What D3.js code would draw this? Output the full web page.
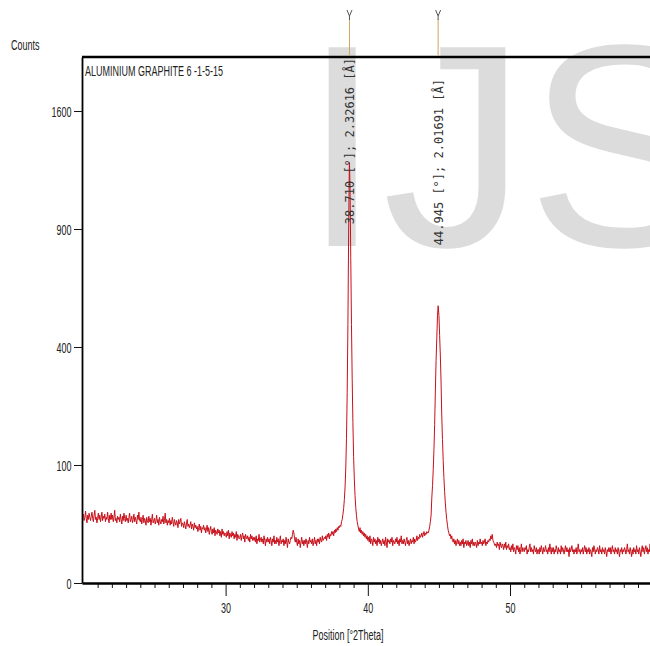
<!DOCTYPE html>
<html><head><meta charset="utf-8">
<script src="https://cdn.jsdelivr.net/npm/d3@7/dist/d3.min.js"></script>
<style>html,body{margin:0;padding:0;background:#fff;} svg{display:block;}</style>
</head><body><div id="chart"></div>
<script>
// ---- data ----
const scanStart = 20.0;   // °2Theta
const scanStep = 0.05;    // °2Theta
const counts = [
  34,28,31,37,30,26,33,29,35,31,
  28,32,36,30,27,33,38,29,31,26,
  30,35,29,33,27,31,36,28,32,30,
  34,27,31,29,36,30,26,33,29,35,
  29,33,27,31,38,28,30,26,32,29,
  31,27,34,29,25,32,28,35,30,27,
  33,28,30,26,31,35,27,29,32,26,
  29,34,27,31,28,25,33,29,36,28,
  27,31,25,29,33,26,30,28,24,31,
  28,26,32,27,30,24,29,34,26,28,
  30,25,28,33,26,29,24,31,27,25,
  29,27,32,25,28,35,26,29,24,28,
  26,30,24,28,25,31,27,23,29,26,
  24,28,26,22,29,25,27,30,23,26,
  25,22,27,24,21,26,29,23,25,22,
  24,27,21,25,23,20,26,22,24,21,
  23,19,22,25,20,23,18,22,21,24,
  20,22,18,21,24,19,22,17,20,23,
  19,17,21,18,22,16,20,19,17,21,
  18,20,16,19,15,21,17,19,16,18,
  17,15,19,16,20,14,18,16,15,19,
  16,18,14,17,15,19,13,17,16,14,
  15,17,13,16,18,14,16,12,17,15,
  14,16,13,15,12,17,14,16,13,15,
  13,15,12,16,11,14,13,17,12,14,
  15,12,14,11,16,13,10,14,12,15,
  12,14,11,15,13,10,14,12,16,11,
  13,11,15,12,14,10,13,16,11,13,
  12,14,10,13,11,15,12,9,14,12,
  11,13,15,14,17,20,18,14,12,15,
  12,10,14,11,13,9,12,15,11,13,
  10,13,11,14,12,9,13,11,15,12,
  13,11,14,10,12,15,11,13,10,14,
  12,14,11,15,13,12,16,13,14,15,
  14,16,13,17,15,18,14,17,16,19,
  17,19,16,20,18,21,19,22,20,23,
  22,24,23,27,29,34,40,50,66,95,
  150,260,480,880,1250,1120,760,480,300,185,
  115,78,55,41,33,27,24,21,19,22,
  18,20,17,19,16,18,15,17,14,16,
  13,15,12,16,11,14,13,10,15,12,
  14,11,13,10,15,12,14,11,13,10,
  12,14,11,13,10,15,12,9,14,12,
  13,11,14,12,15,10,13,12,11,14,
  12,15,11,13,10,14,12,16,11,13,
  11,14,12,10,13,15,11,13,10,12,
  14,11,13,12,15,11,14,12,13,16,
  13,15,14,17,15,16,18,15,17,19,
  16,18,17,19,18,18,20,23,27,33,
  52,68,92,128,180,265,355,430,515,550,
  515,440,370,290,200,148,108,80,60,46,
  36,29,24,20,18,16,17,14,16,13,
  12,14,11,13,10,12,14,11,13,10,
  12,10,13,11,14,9,12,11,13,10,
  11,13,10,12,9,13,11,14,10,12,
  10,12,11,9,13,10,12,11,14,11,
  12,10,13,11,12,14,10,12,11,13,
  12,14,13,16,14,17,13,12,11,10,
  11,9,12,10,11,8,12,10,9,11,
  10,8,11,9,12,8,10,9,11,8,
  9,7,10,8,11,7,9,8,6,10,
  8,10,7,9,6,8,11,7,9,8,
  7,9,8,10,6,8,7,9,11,7,
  9,7,8,6,10,8,7,9,6,8,
  8,6,9,7,10,8,6,9,7,8,
  10,7,8,6,9,7,11,8,6,9,
  7,9,6,8,7,10,8,6,9,7,
  8,6,10,7,9,8,6,8,10,7,
  9,7,8,5,9,7,8,10,7,8,
  6,8,7,9,6,8,11,7,8,6,
  8,7,9,6,8,10,7,9,6,8,
  7,9,6,8,7,5,9,7,10,8,
  6,8,7,9,8,6,10,7,8,6,
  9,7,8,6,9,7,5,8,7,9,
  7,9,6,8,10,7,8,6,9,7,
  8,6,9,7,5,8,7,9,6,8,
  7,9,8,6,8,11,7,8,6,9,
  7,5,8,6,9,7,8,6,10,7,
  8,6,9,7,5,8,10,7,9,6,
  8,10,7,9,6,8,7,11,8,6,
  8
];
const peakPositions = [38.710, 44.945];
const peakCounts = [1270, 552];
const peakLabels = ["38.710 [°]; 2.32616 [Å]", "44.945 [°]; 2.01691 [Å]"];
const xMajorTicks = [30, 40, 50];
const xMinorTicks = d3.range(21, 62, 1).filter(v => v % 10 !== 0);
const yTicks = [0, 100, 400, 900, 1600];
const chartTitle = "ALUMINIUM GRAPHITE 6 -1-5-15";
const yLabel = "Counts";
const xLabel = "Position [°2Theta]";
const watermark = "IJS";

// ---- layout ----
const W = 650, H = 646;
const L = 82, T = 57, B = 583;
const labelEnds = [58, 79];
const FONT = "'Liberation Sans', Arial, sans-serif";
const SX = 0.6;

const svg = d3.select("#chart").append("svg").attr("width", W).attr("height", H);
svg.append("rect").attr("width", W).attr("height", H).attr("fill", "#fff");

const x = d3.scaleLinear().domain([19.9, 62]).range([L, L + 42.1 * 14.22]);
const y = d3.scaleSqrt().domain([0, 1987]).range([B, T]);

// watermark
svg.append("text").attr("x", 302).attr("y", 246)
  .attr("font-family", FONT).attr("font-size", 289).attr("fill", "#dcdcdc")
  .text(watermark);

// data
const pts = counts.map((c, i) => [+(scanStart + i * scanStep).toFixed(3), c]);
peakPositions.forEach((p, i) => pts.push([p, peakCounts[i]]));
pts.sort((a, b) => a[0] - b[0]);

svg.append("clipPath").attr("id", "clip").append("rect")
  .attr("x", L).attr("y", T).attr("width", W - L).attr("height", B - T);

svg.append("path").datum(pts)
  .attr("clip-path", "url(#clip)")
  .attr("fill", "none").attr("stroke", "#c8101a").attr("stroke-width", 1)
  .attr("stroke-linejoin", "round")
  .attr("d", d3.line().x(d => x(d[0])).y(d => y(d[1])));

// x axis
const xMinor = svg.append("g").attr("transform", `translate(0,${B})`)
  .call(d3.axisBottom(x).tickValues(xMinorTicks).tickSize(5).tickSizeOuter(0).tickFormat(""));
xMinor.select(".domain").remove();
xMinor.selectAll("line").attr("stroke", "#111");

const xAx = svg.append("g").attr("transform", `translate(0,${B})`)
  .call(d3.axisBottom(x).tickValues(xMajorTicks).tickSize(13).tickSizeOuter(0).tickFormat(d3.format("d")));
xAx.select(".domain").attr("stroke", "#000").attr("stroke-width", 2.6);
xAx.selectAll(".tick line").attr("stroke", "#111");
xAx.selectAll(".tick text")
  .attr("font-family", FONT).attr("font-size", 15).attr("fill", "#222")
  .attr("y", 30).attr("dy", 0).attr("transform", `scale(${SX},1)`);

// y axis
const yAx = svg.append("g").attr("transform", `translate(${L},0)`)
  .call(d3.axisLeft(y).tickValues(yTicks).tickSize(8).tickSizeOuter(0).tickFormat(d3.format("d")));
yAx.select(".domain").attr("stroke", "#000").attr("stroke-width", 1.8);
yAx.selectAll(".tick line").attr("stroke", "#111");
yAx.selectAll(".tick text")
  .attr("font-family", FONT).attr("font-size", 15).attr("fill", "#222")
  .attr("x", 0).attr("dy", "0.35em").attr("text-anchor", "end")
  .attr("transform", `translate(-10.5,0) scale(${SX},1)`);

// top frame line
svg.append("line").attr("x1", L).attr("x2", W).attr("y1", T).attr("y2", T)
  .attr("stroke", "#000").attr("stroke-width", 2.6);

// texts
function squeezed(tx, ty, str, anchor) {
  svg.append("g").attr("transform", `translate(${tx},${ty}) scale(${SX},1)`)
    .append("text").attr("font-family", FONT).attr("font-size", 15)
    .attr("fill", "#222").attr("text-anchor", anchor).text(str);
}
squeezed(11, 50, yLabel, "start");
squeezed(85, 76, chartTitle, "start");
squeezed(348, 640, xLabel, "middle");

// peak markers and labels
peakPositions.forEach((p, i) => {
  const px = x(p);
  const g = svg.append("g").attr("transform", `translate(${px},0)`);
  g.append("line").attr("x1", 0).attr("x2", 0).attr("y1", 19).attr("y2", T - 1.3)
    .attr("stroke", "#cfa65e").attr("stroke-width", 1);
  g.append("path").attr("d", "M-2.5,10 L0,16 L2.5,10 M0,16 V20")
    .attr("fill", "none").attr("stroke", "#555").attr("stroke-width", 1);
  svg.append("text")
    .attr("transform", `translate(${px + 4.5},${labelEnds[i]}) rotate(-90)`)
    .attr("text-anchor", "end")
    .attr("font-family", "'DejaVu Sans Mono', monospace").attr("font-size", 12)
    .attr("fill", "#333").text(peakLabels[i]);
});
</script>
</body></html>
